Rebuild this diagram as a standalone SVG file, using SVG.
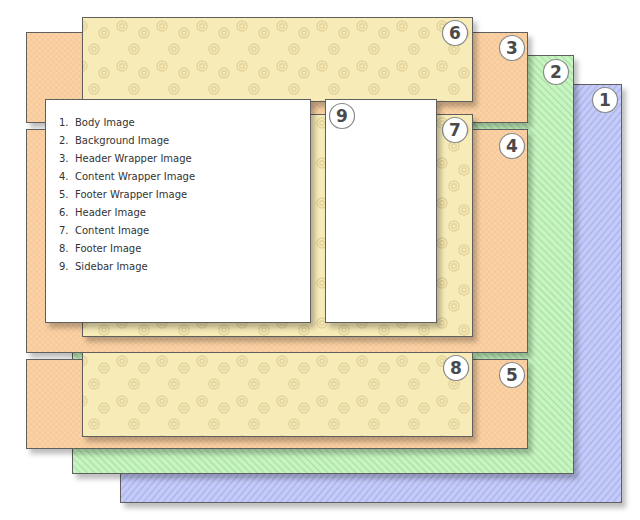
<svg xmlns="http://www.w3.org/2000/svg" width="640" height="520" viewBox="0 0 640 520">
<style>
.box{stroke:#5f5f5f;stroke-width:1;filter:url(#sh)}
.bc{fill:#ffffff;stroke:#8a8a8a;stroke-width:1.2}
.bt{font-family:"DejaVu Sans",Verdana,sans-serif;font-weight:bold;font-size:17px;fill:#4a4a4a;text-anchor:middle}
.li{font-family:"DejaVu Sans",Verdana,sans-serif;font-size:10px;fill:#333333}
</style>
<defs>
<filter id="sh" x="-5%" y="-5%" width="115%" height="120%">
<feDropShadow dx="4" dy="5" stdDeviation="2.5" flood-color="#000000" flood-opacity="0.25"/>
</filter>
<pattern id="pBlue" width="5" height="5" patternUnits="userSpaceOnUse" patternTransform="rotate(40)">
<rect width="5" height="5" fill="#c6ccf9"/>
<line x1="2.5" y1="0" x2="2.5" y2="5" stroke="#a9b1ea" stroke-width="1.3"/>
</pattern>
<pattern id="pGreen" width="5" height="5" patternUnits="userSpaceOnUse" patternTransform="rotate(-45)">
<rect width="5" height="5" fill="#c8f6c2"/>
<line x1="2.5" y1="0" x2="2.5" y2="5" stroke="#aadfa4" stroke-width="1.3"/>
</pattern>
<pattern id="pOrange" width="4" height="4" patternUnits="userSpaceOnUse" patternTransform="rotate(45)">
<rect width="4" height="4" fill="#fdd4a8"/>
<line x1="2" y1="0" x2="2" y2="4" stroke="#f0c391" stroke-width="0.8"/>
<line x1="0" y1="2" x2="4" y2="2" stroke="#f0c391" stroke-width="0.8"/>
</pattern>
<pattern id="pYellow" width="40" height="40" patternUnits="userSpaceOnUse">
<rect width="40" height="40" fill="#f7ebb7"/>
<g fill="none" stroke="#e3d39b" stroke-width="1.4">
<circle cx="0" cy="9" r="5"/><circle cx="0" cy="9" r="2.2"/>
<circle cx="40" cy="9" r="5"/><circle cx="40" cy="9" r="2.2"/>
<circle cx="22" cy="16" r="5"/><circle cx="22" cy="16" r="2.2"/>
<circle cx="12" cy="32" r="5"/><circle cx="12" cy="32" r="2.2"/>
</g>
</pattern>
</defs>

<g id="n1">
<rect class="box" x="120.5" y="84.5" width="501" height="418" fill="url(#pBlue)"/>
<circle class="bc" cx="605" cy="100" r="12.5"/><text class="bt" x="605" y="106">1</text>
</g>
<g id="n2">
<rect class="box" x="72.5" y="55.5" width="501" height="418" fill="url(#pGreen)"/>
<circle class="bc" cx="556" cy="72" r="12.5"/><text class="bt" x="556" y="78">2</text>
</g>
<g id="n3">
<rect class="box" x="26.5" y="32.5" width="501" height="90" fill="url(#pOrange)"/>
<circle class="bc" cx="512" cy="48" r="12.5"/><text class="bt" x="512" y="54">3</text>
</g>
<g id="n4">
<rect class="box" x="26.5" y="129.5" width="501" height="223" fill="url(#pOrange)"/>
<circle class="bc" cx="512" cy="146" r="12.5"/><text class="bt" x="512" y="152">4</text>
</g>
<g id="n5">
<rect class="box" x="26.5" y="359.5" width="501" height="89" fill="url(#pOrange)"/>
<circle class="bc" cx="512" cy="375" r="12.5"/><text class="bt" x="512" y="381">5</text>
</g>
<g id="n6">
<rect class="box" transform="translate(82,17)" x="0.5" y="0.5" width="390" height="84" fill="url(#pYellow)"/>
<circle class="bc" cx="455" cy="33" r="12.5"/><text class="bt" x="455" y="39">6</text>
</g>
<g id="n7">
<rect class="box" transform="translate(82,114)" x="0.5" y="0.5" width="390" height="222" fill="url(#pYellow)"/>
<circle class="bc" cx="455" cy="130" r="12.5"/><text class="bt" x="455" y="136">7</text>
</g>
<g id="n8">
<rect class="box" transform="translate(82,352)" x="0.5" y="0.5" width="390" height="84" fill="url(#pYellow)"/>
<circle class="bc" cx="456" cy="368" r="12.5"/><text class="bt" x="456" y="374">8</text>
</g>
<g id="legend">
<rect class="box" x="45.5" y="99.5" width="265" height="223" fill="#ffffff"/>
<text class="li" x="59" y="125.5">1.</text><text class="li" x="75" y="125.5">Body Image</text>
<text class="li" x="59" y="143.5">2.</text><text class="li" x="75" y="143.5">Background Image</text>
<text class="li" x="59" y="161.5">3.</text><text class="li" x="75" y="161.5">Header Wrapper Image</text>
<text class="li" x="59" y="179.5">4.</text><text class="li" x="75" y="179.5">Content Wrapper Image</text>
<text class="li" x="59" y="197.5">5.</text><text class="li" x="75" y="197.5">Footer Wrapper Image</text>
<text class="li" x="59" y="215.5">6.</text><text class="li" x="75" y="215.5">Header Image</text>
<text class="li" x="59" y="233.5">7.</text><text class="li" x="75" y="233.5">Content Image</text>
<text class="li" x="59" y="251.5">8.</text><text class="li" x="75" y="251.5">Footer Image</text>
<text class="li" x="59" y="269.5">9.</text><text class="li" x="75" y="269.5">Sidebar Image</text>
</g>
<g id="n9">
<rect class="box" x="325.5" y="99.5" width="111" height="223" fill="#ffffff"/>
<circle class="bc" cx="342" cy="116" r="12.5"/><text class="bt" x="342" y="122">9</text>
</g>
</svg>
